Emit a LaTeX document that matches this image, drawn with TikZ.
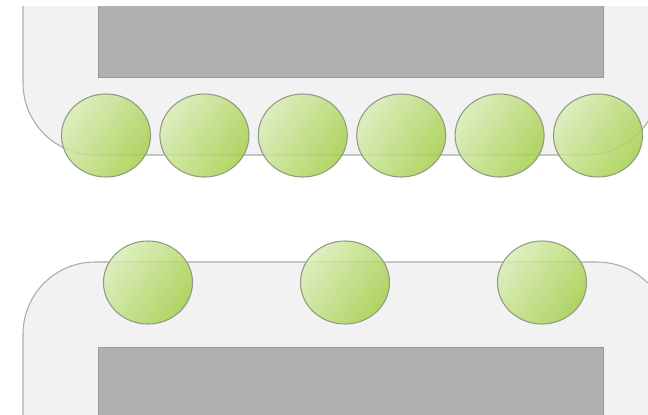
\documentclass[tikz,border=0pt]{standalone}
\usepackage{xcolor}
\usepackage{tikz}
\usetikzlibrary{positioning,shapes.geometric}
\definecolor{PanelGray}{HTML}{F2F2F2}
\definecolor{PanelLine}{HTML}{ABABAB}
\definecolor{BlockGray}{HTML}{B0B0B0}
\definecolor{BlockLine}{HTML}{999999}
\definecolor{LeafLight}{HTML}{DAEDB6}
\definecolor{LeafGreen}{HTML}{A4CF4A}
\definecolor{LeafLine}{HTML}{8F9A82}
\tikzset{
  panel/.style={draw=PanelLine,fill=PanelGray,line width=0.9pt,
    rounded corners=2.16cm},
  block/.style={draw=BlockLine,fill=BlockGray,line width=0.6pt},
  bead/.style={ellipse,draw=LeafLine,line width=0.9pt,
    top color=LeafLight,bottom color=LeafGreen,shading angle=55,
    fill opacity=0.85,minimum width=2.67cm,minimum height=2.49cm,
    inner sep=0pt},
}

\begin{document}
\begin{tikzpicture}[x=0.03cm,y=-0.03cm]
  \useasboundingbox (0,0) rectangle (648,414);
  \clip (0,0) rectangle (648,414);
  \begin{scope}
    \clip (0,6) rectangle (648,414);
    \draw[panel] (23,-150) rectangle (659,155);
    \draw[block] (98,-10) rectangle (603,77);
  \end{scope}
  \draw[panel] (23,262) rectangle (669,560);
  \draw[block] (98,347) rectangle (603,430);
  % top row
  \foreach \i in {1,...,6}
    \node[bead] (t\i) at ({106+98.4*(\i-1)},135.5) {};
  % bottom row
  \foreach \i in {1,2,3}
    \node[bead] (d\i) at ({148+197*(\i-1)},282.5) {};
\end{tikzpicture}
\end{document}
